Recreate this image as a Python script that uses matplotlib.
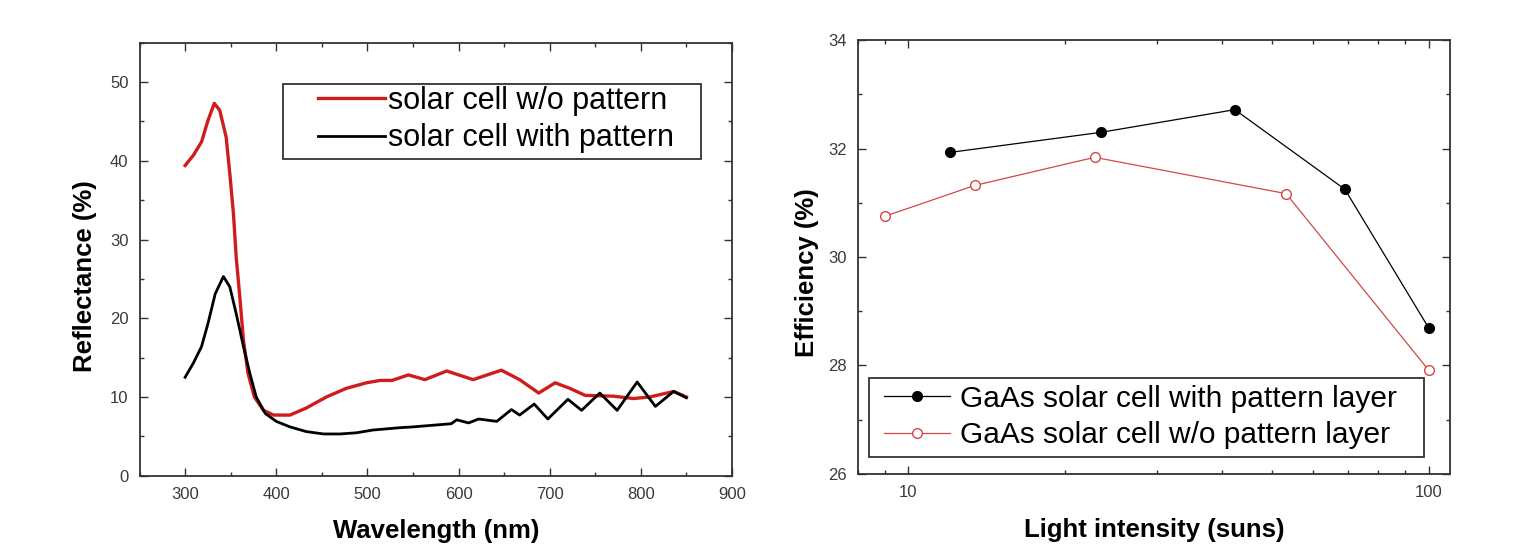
import matplotlib
matplotlib.use('Agg')
import matplotlib.pyplot as plt
from matplotlib.patches import Rectangle
from matplotlib.ticker import MultipleLocator, FixedLocator, FixedFormatter, LogLocator, NullFormatter

plt.rcParams['font.family'] = ['Liberation Sans', 'DejaVu Sans']

# left panel: reflectance spectra
red_wl = [300, 309, 318, 325, 332, 338, 345, 349, 353, 356, 360, 364, 369, 376, 386, 397,
          415, 433, 455, 477, 499, 514, 527, 545, 563, 587, 616, 647, 667, 688, 706, 722,
          739, 770, 792, 810, 836, 850]
red_r = [39.4, 40.7, 42.4, 45.1, 47.3, 46.4, 43.0, 38.4, 33.3, 27.8, 22.7, 17.2, 13.0, 10.0,
         8.3, 7.7, 7.7, 8.6, 10.0, 11.1, 11.8, 12.1, 12.1, 12.8, 12.2, 13.3, 12.2, 13.4, 12.2,
         10.5, 11.8, 11.1, 10.2, 10.1, 9.8, 10.0, 10.7, 10.0]
blk_wl = [300, 309, 318, 325, 333, 342, 349, 356, 364, 371, 378, 388, 400, 415, 433, 452,
          470, 488, 506, 536, 550, 592, 598, 611, 622, 642, 658, 667, 683, 698, 720, 735,
          755, 774, 796, 816, 836, 850]
blk_r = [12.5, 14.3, 16.4, 19.3, 23.1, 25.3, 24.0, 20.6, 16.4, 13.0, 10.0, 7.9, 6.9, 6.2,
         5.6, 5.3, 5.3, 5.45, 5.8, 6.1, 6.2, 6.6, 7.1, 6.7, 7.2, 6.9, 8.4, 7.7, 9.1, 7.2, 9.7,
         8.3, 10.5, 8.3, 11.9, 8.8, 10.7, 9.9]

# right panel: efficiency vs light intensity
pat_suns = [12, 23.4, 42.4, 69, 100]
pat_eff = [31.93, 32.3, 32.72, 31.25, 28.69]
nopat_suns = [9, 13.4, 22.8, 53.2, 100]
nopat_eff = [30.75, 31.32, 31.84, 31.17, 27.91]

fig = plt.figure(figsize=(15.17, 5.53), dpi=100)
ax1 = fig.add_axes([0.092, 0.1398, 0.3905, 0.783])
ax2 = fig.add_axes([0.5656, 0.1434, 0.3904, 0.7837])

spine_c = '#333333'
tick_c = '#3a3a3a'
for ax in (ax1, ax2):
    for s in ax.spines.values():
        s.set_color(spine_c)
        s.set_linewidth(1.3)
    ax.tick_params(which='both', direction='in', top=True, right=True, color=spine_c,
                   labelcolor=tick_c, labelsize=12, pad=8)
    ax.tick_params(which='major', length=5.5, width=1)
    ax.tick_params(which='minor', length=3, width=1)

red = '#cf1d1d'
ax1.plot(red_wl, red_r, color=red, lw=2.4, label='solar cell w/o pattern')
ax1.plot(blk_wl, blk_r, color='black', lw=2.0, label='solar cell with pattern')
ax1.set_xlim(250, 900)
ax1.set_ylim(0, 55)
ax1.xaxis.set_major_locator(MultipleLocator(100))
ax1.xaxis.set_minor_locator(MultipleLocator(50))
ax1.yaxis.set_major_locator(MultipleLocator(10))
ax1.yaxis.set_minor_locator(MultipleLocator(5))
ax1.set_xticks([300, 400, 500, 600, 700, 800, 900])
ax1.set_xlabel('Wavelength (nm)', fontsize=18.5, fontweight='bold')
ax1.set_ylabel('Reflectance (%)', fontsize=18.5, fontweight='bold')
ax1.xaxis.set_label_coords(0.5, -0.1)
ax1.yaxis.set_label_coords(-0.0717, 0.46)

ax1.add_patch(Rectangle((0.2427, 0.7314), 0.705, 0.1732, transform=ax1.transAxes,
                        fill=False, ec=spine_c, lw=1.3, zorder=5))
ax1.legend(loc='center left', bbox_to_anchor=(0.3013, 0.8226), frameon=False,
           fontsize=22, handlelength=2.2, handletextpad=0.1, borderpad=0,
           borderaxespad=0, labelspacing=0.25)

pink = '#d04848'
ax2.plot(pat_suns, pat_eff, color='black', lw=0.9, marker='o', ms=7,
         mfc='black', mec='black', label='GaAs solar cell with pattern layer')
ax2.plot(nopat_suns, nopat_eff, color=pink, lw=0.9, marker='o', ms=7,
         mfc='white', mec=pink, mew=1.0, label='GaAs solar cell w/o pattern layer')
ax2.set_xscale('log')
ax2.set_xlim(8, 110)
ax2.set_ylim(26, 34)
ax2.xaxis.set_major_locator(FixedLocator([10, 100]))
ax2.xaxis.set_major_formatter(FixedFormatter(['10', '100']))
ax2.xaxis.set_minor_locator(LogLocator(base=10, subs=range(2, 10)))
ax2.xaxis.set_minor_formatter(NullFormatter())
ax2.yaxis.set_major_locator(MultipleLocator(2))
ax2.yaxis.set_minor_locator(MultipleLocator(1))
ax2.set_xlabel('Light intensity (suns)', fontsize=18.5, fontweight='bold')
ax2.set_ylabel('Efficiency (%)', fontsize=18.5, fontweight='bold')
ax2.xaxis.set_label_coords(0.5, -0.102)
ax2.yaxis.set_label_coords(-0.066, 0.463)

ax2.add_patch(Rectangle((0.0182, 0.0388), 0.9372, 0.1811, transform=ax2.transAxes,
                        fill=False, ec=spine_c, lw=1.3, zorder=5))
ax2.legend(loc='center left', bbox_to_anchor=(0.0439, 0.1308), frameon=False,
           fontsize=21.5, handlelength=2.2, handletextpad=0.35, borderpad=0,
           borderaxespad=0, labelspacing=0.3)

fig.savefig('out.png', dpi=100)
